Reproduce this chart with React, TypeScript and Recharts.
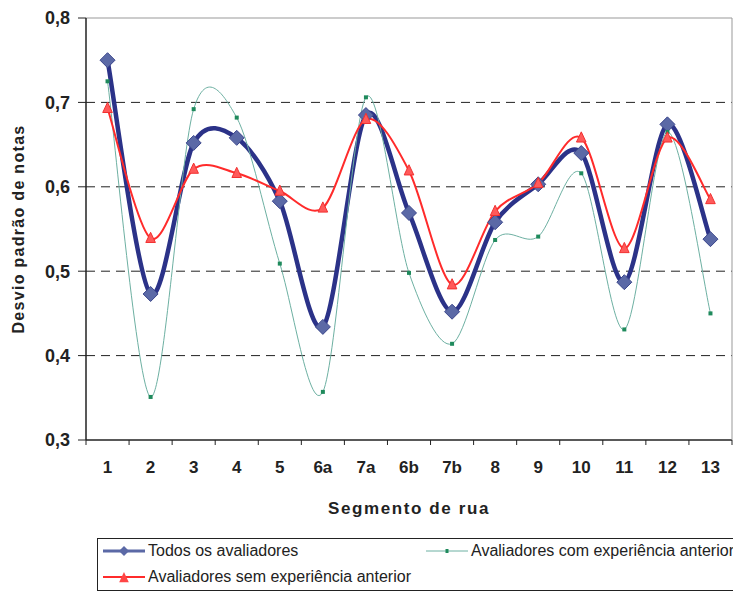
import React from "react";
import { LineChart, Line, XAxis, YAxis, ReferenceLine } from "recharts";

const segments = ["1", "2", "3", "4", "5", "6a", "7a", "6b", "7b", "8", "9", "10", "11", "12", "13"];
const todos = [0.75, 0.473, 0.652, 0.658, 0.583, 0.434, 0.685, 0.569, 0.452, 0.558, 0.603, 0.64, 0.487, 0.674, 0.538];
const comExperiencia = [0.725, 0.351, 0.692, 0.682, 0.509, 0.357, 0.706, 0.498, 0.414, 0.537, 0.541, 0.616, 0.431, 0.665, 0.45];
const semExperiencia = [0.693, 0.539, 0.621, 0.616, 0.595, 0.575, 0.68, 0.619, 0.484, 0.571, 0.604, 0.658, 0.527, 0.658, 0.585];
const yTicks = [0.3, 0.4, 0.5, 0.6, 0.7, 0.8];
const gridValues = [0.4, 0.5, 0.6, 0.7];

const data = segments.map((s, i) => ({
  segmento: s,
  todos: todos[i],
  com: comExperiencia[i],
  sem: semExperiencia[i],
}));

const W = 733;
const H = 593;
const M = { top: 18, right: 0, bottom: 73, left: 0 };
const Y_W = 86;
const X_H = 80;
const PLOT_W = W - Y_W - 1;
const PLOT_BOTTOM = H - M.bottom - X_H;
const band = PLOT_W / segments.length;
const FONT = "'Liberation Sans', Arial, sans-serif";

// Excel-like smoothing (Catmull-Rom, slightly relaxed)
const K = 1 / 6.6;
function smoothCurve(context: any) {
  let pts: [number, number][] = [];
  return {
    areaStart() {},
    areaEnd() {},
    lineStart() { pts = []; },
    lineEnd() {
      if (!pts.length) return;
      context.moveTo(pts[0][0], pts[0][1]);
      for (let i = 0; i < pts.length - 1; i++) {
        const p0 = pts[i - 1] || pts[i];
        const p1 = pts[i];
        const p2 = pts[i + 1];
        const p3 = pts[i + 2] || p2;
        context.bezierCurveTo(
          p1[0] + (p2[0] - p0[0]) * K, p1[1] + (p2[1] - p0[1]) * K,
          p2[0] - (p3[0] - p1[0]) * K, p2[1] - (p3[1] - p1[1]) * K,
          p2[0], p2[1]
        );
      }
    },
    point(x: number, y: number) { pts.push([+x, +y]); },
  };
}

const diamond = (cx: number, cy: number, r: number) =>
  `M${cx},${cy - r}L${cx + r},${cy}L${cx},${cy + r}L${cx - r},${cy}Z`;
const triangle = (cx: number, cy: number, r: number) =>
  `M${cx},${cy - r}L${cx + r * 0.8},${cy + r * 0.7}L${cx - r * 0.8},${cy + r * 0.7}Z`;

const DiamondDot = (p: any) =>
  p.cx == null ? null : (
    <path key={p.index} d={diamond(p.cx, p.cy, 7.5)} fill="#5b69a6" stroke="#3c478c" strokeWidth={1} />
  );
const TriangleDot = (p: any) =>
  p.cx == null ? null : (
    <path key={p.index} d={triangle(p.cx, p.cy, 6)} fill="#ff5a5a" stroke="#f23030" strokeWidth={1} />
  );
const SquareDot = (p: any) =>
  p.cx == null ? null : (
    <rect key={p.index} x={p.cx - 2} y={p.cy - 2} width={4} height={4} fill="#1f8a5c" />
  );

const SegmentTick = (p: any) => {
  const { x, payload, index } = p;
  return (
    <g>
      <line x1={x - band / 2} x2={x - band / 2} y1={PLOT_BOTTOM} y2={PLOT_BOTTOM + 5} stroke="#222" />
      {index === segments.length - 1 && (
        <line x1={x + band / 2} x2={x + band / 2} y1={PLOT_BOTTOM} y2={PLOT_BOTTOM + 5} stroke="#222" />
      )}
      <text x={x} y={PLOT_BOTTOM + 27} textAnchor="middle" dominantBaseline="central"
        fontSize={17} fontWeight="bold" fill="#222" fontFamily={FONT}>
        {payload.value}
      </text>
    </g>
  );
};

const series = [
  { key: "todos", name: "Todos os avaliadores", color: "#2b3288", width: 4.5, Dot: DiamondDot, icon: "diamond" },
  { key: "com", name: "Avaliadores com experiência anterior", color: "#6db0a2", width: 1, Dot: SquareDot, icon: "square" },
  { key: "sem", name: "Avaliadores sem experiência anterior", color: "#ff2b2b", width: 2, Dot: TriangleDot, icon: "triangle" },
];

const legendPos = [
  { left: 5, top: 12 },
  { left: 328, top: 12 },
  { left: 5, top: 38 },
];

function LegendIcon({ s }: { s: typeof series[number] }) {
  return (
    <svg width={42} height={14} style={{ display: "block" }}>
      <line x1={0} x2={42} y1={7} y2={7} stroke={s.key === "todos" ? "#5b69a6" : s.color}
        strokeWidth={s.key === "todos" ? 3 : s.width} />
      {s.icon === "diamond" && <path d={diamond(21, 7, 5)} fill="#5b69a6" />}
      {s.icon === "triangle" && <path d={triangle(21, 8, 6)} fill="#ff4545" />}
      {s.icon === "square" && <rect x={19.5} y={5} width={3} height={4} fill="#1f8a5c" />}
    </svg>
  );
}

export default function App() {
  return (
    <div style={{ position: "absolute", left: 0, top: 0, width: W, height: H, overflow: "hidden", background: "#fff" }}>
      <LineChart width={W} height={H} data={data} margin={M}>
        <XAxis dataKey="segmento" interval={0} tick={<SegmentTick />} tickLine={false}
          padding={{ left: band / 2, right: band / 2 }}
          axisLine={{ stroke: "#222", strokeWidth: 1.5 }} height={X_H}
          label={{ value: "Segmento de rua", position: "insideBottom", offset: 6,
            style: { fontSize: 17, fontWeight: "bold", fill: "#222", fontFamily: FONT, letterSpacing: 1.6 } }} />
        <YAxis domain={[0.3, 0.8]} ticks={yTicks} width={Y_W}
          tickFormatter={(v: number) => v.toFixed(1).replace(".", ",")}
          tick={{ fontSize: 18, fontWeight: "bold", fill: "#222", fontFamily: FONT }}
          tickSize={8} tickMargin={8} tickLine={{ stroke: "#222" }}
          axisLine={{ stroke: "#222", strokeWidth: 1.5 }}
          label={{ value: "Desvio padrão de notas", angle: -90, position: "insideLeft", offset: 18,
            style: { textAnchor: "middle", fontSize: 16, fontWeight: "bold", fill: "#222", fontFamily: FONT, letterSpacing: 1.3 } }} />
        <YAxis yAxisId="right" orientation="right" domain={[0.3, 0.8]} tick={false} tickLine={false}
          axisLine={{ stroke: "#999" }} width={1} />
        <ReferenceLine y={0.8} stroke="#999" />
        {gridValues.map((v) => (
          <ReferenceLine key={v} y={v} stroke="#222" strokeDasharray="9 6" />
        ))}
        {series.map((s) => (
          <Line key={s.key} dataKey={s.key} name={s.name} type={smoothCurve as any} stroke={s.color}
            strokeWidth={s.width} dot={s.Dot} activeDot={false} isAnimationActive={false} />
        ))}
      </LineChart>
      <div style={{ position: "absolute", left: 97, top: 538, width: 660, height: 51, border: "1px solid #222",
        fontFamily: FONT, fontSize: 16, color: "#222" }}>
        {series.map((s, i) => (
          <div key={s.key} style={{ position: "absolute", left: legendPos[i].left, top: legendPos[i].top - 9,
            display: "flex", alignItems: "center", whiteSpace: "nowrap", height: 18 }}>
            <LegendIcon s={s} />
            <span style={{ marginLeft: 3 }}>{s.name}</span>
          </div>
        ))}
      </div>
    </div>
  );
}
